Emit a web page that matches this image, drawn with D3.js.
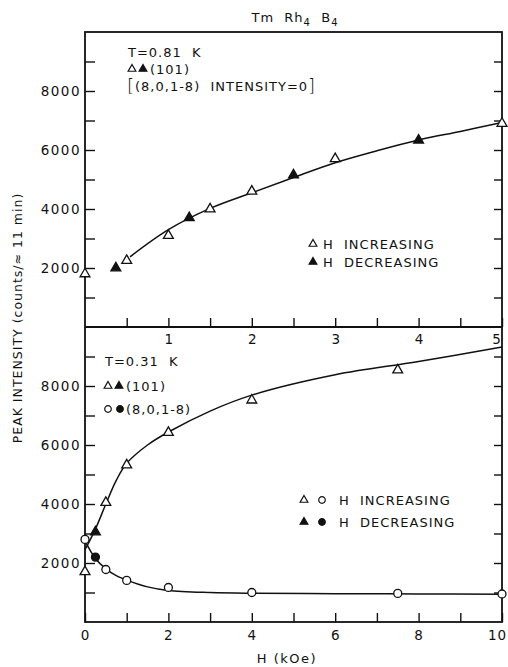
<!DOCTYPE html>
<html>
<head>
<meta charset="utf-8">
<script src="https://cdn.jsdelivr.net/npm/d3@7"></script>
<style>
  body { margin: 0; background: #fff; }
  text { font-family: "DejaVu Sans", sans-serif; fill: #111; }
</style>
</head>
<body>
<div id="chart"></div>
<script>
// Values: [H (kOe), counts]
var top101Inc = [[0, 1800], [0.5, 2250], [1, 3100], [1.5, 4000], [2, 4600], [3, 5700], [5, 6900]];
var top101Dec = [[0.37, 2000], [1.25, 3700], [2.5, 5150], [4, 6330]];
var topFit = [[0.54, 2380], [1, 3300], [1.5, 4020], [2, 4550], [2.5, 5070], [3, 5570], [3.5, 5975], [4, 6340], [4.5, 6630], [5, 6930]];

var bot101Inc = [[0, 1700], [0.5, 4050], [1, 5320], [2, 6420], [4, 7520], [7.5, 8540]];
var bot101Dec = [[0.25, 3050]];
var botDeltaInc = [[0, 2800], [0.5, 1780], [1, 1410], [2, 1170], [4, 1000], [7.5, 970], [10, 950]];
var botDeltaDec = [[0.25, 2200]];
var botFitUp = [[0, 2450], [0.25, 3150], [0.5, 4000], [0.75, 4800], [1, 5380], [1.5, 6000], [2, 6440], [3, 7150], [4, 7690], [6, 8380], [8, 8830], [10, 9320]];
var botFitDown = [[0, 2750], [0.25, 2150], [0.5, 1800], [0.75, 1570], [1, 1420], [1.5, 1190], [2, 1070], [3, 1000], [4, 975], [6, 960], [8, 950], [10, 940]];

// tick labels
var yLabelTicks = [2000, 4000, 6000, 8000];
var topXLabels = [1, 2, 3, 4, 5];
var botXLabels = [0, 2, 4, 6, 8, 10];

window.onload = function() {
    var left = 85, right = 502, top = 32, mid = 327, bottom = 622;

    var svg = d3.select("#chart").append("svg")
        .attr("width", 508)
        .attr("height", 667);

    var xTop = d3.scaleLinear().domain([0, 5]).range([left, right]);
    var xBot = d3.scaleLinear().domain([0, 10]).range([left, right]);
    var yTop = d3.scaleLinear().domain([0, 10000]).range([mid, top]);
    var yBot = d3.scaleLinear().domain([0, 10000]).range([bottom, mid]);

    var minorY = d3.range(1000, 10000, 1000);
    var fmtY = function(d) { return yLabelTicks.indexOf(d) >= 0 ? d : ""; };

    // y axes, both panels
    [yTop, yBot].forEach(function(y) {
        var gl = svg.append("g")
            .attr("transform", "translate(" + left + ",0)")
            .call(d3.axisLeft(y).tickValues(minorY).tickSize(-10).tickPadding(4).tickFormat(fmtY));
        gl.selectAll("text").attr("font-size", 13.5).attr("letter-spacing", 1.5);
        var gr = svg.append("g")
            .attr("transform", "translate(" + right + ",0)")
            .call(d3.axisRight(y).tickValues(minorY).tickSize(-8).tickFormat(""));
        [gl, gr].forEach(function(g) {
            g.select(".domain").remove();
            g.selectAll("line").attr("stroke", "#111").attr("stroke-width", 1.4);
        });
    });

    // top panel x axis (0-5 kOe), ticks along the divider
    var gxt = svg.append("g")
        .attr("transform", "translate(0," + mid + ")")
        .call(d3.axisBottom(xTop).tickValues(d3.range(0.5, 5.01, 0.5)).tickSize(-9).tickPadding(7)
            .tickFormat(function(d) { return topXLabels.indexOf(d) >= 0 ? d : ""; }));
    gxt.selectAll("text").attr("font-size", 13.5).attr("dx", function(d) { return d === 5 ? -6 : 0; });

    // bottom panel x axis (0-10 kOe)
    var gxb = svg.append("g")
        .attr("transform", "translate(0," + bottom + ")")
        .call(d3.axisBottom(xBot).tickValues(d3.range(0, 10.01, 1)).tickSize(-9).tickPadding(8)
            .tickFormat(function(d) { return botXLabels.indexOf(d) >= 0 ? d : ""; }));
    gxb.selectAll("text").attr("font-size", 13.5).attr("letter-spacing", 1)
        .attr("dx", function(d) { return d === 10 ? -5 : 0; });
    [gxt, gxb].forEach(function(g) {
        g.select(".domain").remove();
        g.selectAll("line").attr("stroke", "#111").attr("stroke-width", 1.4);
    });

    // frame
    svg.append("rect")
        .attr("x", left).attr("y", top)
        .attr("width", right - left).attr("height", bottom - top)
        .attr("fill", "none").attr("stroke", "#111").attr("stroke-width", 1.8);
    svg.append("line")
        .attr("x1", left).attr("x2", right).attr("y1", mid).attr("y2", mid)
        .attr("stroke", "#111").attr("stroke-width", 1.8);

    // fitted curves
    function drawCurve(data, x, y) {
        svg.append("path")
            .datum(data)
            .attr("fill", "none")
            .attr("stroke", "#111")
            .attr("stroke-width", 1.5)
            .attr("d", d3.line().x(function(d) { return x(d[0]); }).y(function(d) { return y(d[1]); })
                .curve(d3.curveCatmullRom.alpha(0.5)));
    }
    drawCurve(topFit, xTop, yTop);
    drawCurve(botFitUp, xBot, yBot);
    drawCurve(botFitDown, xBot, yBot);

    // markers
    var tri = d3.symbol().type(d3.symbolTriangle).size(42);
    function drawMarks(data, x, y, kind, filled) {
        svg.append("g").selectAll("path").data(data).enter().append("path")
            .attr("transform", function(d) { return "translate(" + x(d[0]) + "," + y(d[1]) + ")"; })
            .attr("d", kind === "tri" ? tri() : d3.symbol().type(d3.symbolCircle).size(50)())
            .attr("fill", filled ? "#111" : "#fff")
            .attr("stroke", "#111")
            .attr("stroke-width", 1.3);
    }
    drawMarks(top101Inc, xTop, yTop, "tri", false);
    drawMarks(top101Dec, xTop, yTop, "tri", true);
    drawMarks(bot101Inc, xBot, yBot, "tri", false);
    drawMarks(bot101Dec, xBot, yBot, "tri", true);
    drawMarks(botDeltaInc, xBot, yBot, "circ", false);
    drawMarks(botDeltaDec, xBot, yBot, "circ", true);

    // text helpers
    function label(x, y, str, size, ls) {
        return svg.append("text")
            .attr("x", x).attr("y", y)
            .attr("font-size", size || 13)
            .attr("letter-spacing", ls === undefined ? 1 : ls)
            .style("white-space", "pre")
            .text(str);
    }
    function symbolAt(cx, cy, kind, filled) {
        svg.append("path")
            .attr("transform", "translate(" + cx + "," + cy + ")")
            .attr("d", kind === "tri" ? d3.symbol().type(d3.symbolTriangle).size(26)() : d3.symbol().type(d3.symbolCircle).size(34)())
            .attr("fill", filled ? "#111" : "#fff")
            .attr("stroke", "#111")
            .attr("stroke-width", 1.2);
    }

    // title
    var t = svg.append("text").attr("x", 295).attr("y", 22).attr("text-anchor", "middle")
        .attr("font-size", 13).attr("letter-spacing", 1).style("white-space", "pre");
    t.append("tspan").text("Tm  Rh");
    t.append("tspan").attr("dy", 4).attr("font-size", 10).text("4");
    t.append("tspan").attr("dy", -4).text("  B");
    t.append("tspan").attr("dy", 4).attr("font-size", 10).text("4");

    // top panel annotations
    label(128, 57, "T=0.81  K");
    symbolAt(132, 69, "tri", false);
    symbolAt(143, 69, "tri", true);
    label(150, 74, "(101)");
    var br = svg.append("text").attr("x", 127).attr("y", 92).attr("font-size", 13)
        .attr("letter-spacing", 1).style("white-space", "pre");
    br.append("tspan").attr("font-size", 18).attr("font-weight", 200).text("[");
    br.append("tspan").attr("dy", -1).text("(8,0,1-8)  INTENSITY=0");
    br.append("tspan").attr("dy", 1).attr("font-size", 18).attr("font-weight", 200).text("]");

    // top legend
    symbolAt(313, 244, "tri", false);
    label(323, 249, "H  INCREASING");
    symbolAt(313, 262, "tri", true);
    label(323, 267, "H  DECREASING");

    // bottom panel annotations
    label(105, 366, "T=0.31  K");
    symbolAt(108, 386, "tri", false);
    symbolAt(119, 386, "tri", true);
    label(126, 391, "(101)");
    symbolAt(108, 409, "circ", false);
    symbolAt(120, 409, "circ", true);
    label(126, 414, "(8,0,1-8)");

    // bottom legend
    symbolAt(304, 500, "tri", false);
    symbolAt(322, 500, "circ", false);
    label(339, 505, "H  INCREASING");
    symbolAt(304, 522, "tri", true);
    symbolAt(322, 522, "circ", true);
    label(339, 527, "H  DECREASING");

    // axis titles
    svg.append("text")
        .attr("transform", "translate(22,318) rotate(-90)")
        .attr("text-anchor", "middle")
        .attr("font-size", 12.5)
        .attr("letter-spacing", 1)
        .text("PEAK INTENSITY (counts/\u2248 11 min)");
    svg.append("text")
        .attr("x", 287).attr("y", 663)
        .attr("text-anchor", "middle")
        .attr("font-size", 13)
        .attr("letter-spacing", 1.5)
        .text("H (kOe)");
};
</script>
</body>
</html>
